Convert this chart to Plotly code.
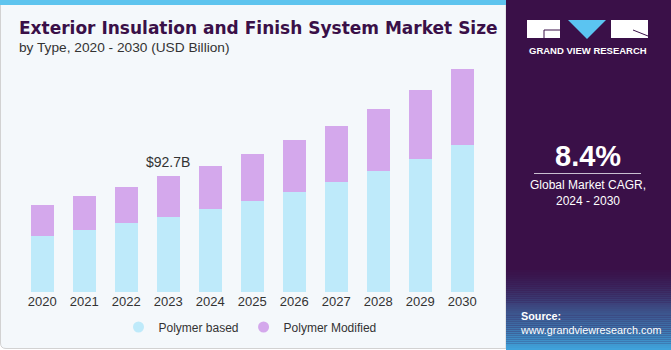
import plotly.graph_objects as go

years = ["2020", "2021", "2022", "2023", "2024", "2025", "2026", "2027", "2028", "2029", "2030"]
polymer_based = [45.1, 49.7, 55.0, 60.3, 66.3, 72.7, 79.9, 87.9, 96.9, 106.8, 118.0]
polymer_modified = [24.6, 27.0, 29.1, 32.4, 34.9, 37.9, 41.6, 45.1, 49.5, 54.8, 60.4]
annot_year = "2023"
annot_text = "$92.7B"
cagr_text = "8.4%"

W, H = 671, 350
BLUE = "#BEEAFA"
PURPLE = "#D4A8EC"
DARK = "#3A1048"
FONT = "Liberation Sans, Arial, sans-serif"

def px(x):
    return x / W

def py(y):
    return 1 - y / H

fig = go.Figure()
fig.add_trace(go.Bar(x=years, y=polymer_based, name="Polymer based",
                     marker=dict(color=BLUE, line=dict(width=0)), showlegend=False))
fig.add_trace(go.Bar(x=years, y=polymer_modified, name="Polymer Modified",
                     marker=dict(color=PURPLE, line=dict(width=0)), showlegend=False))
# legend entries with round symbols
fig.add_trace(go.Scatter(x=[None], y=[None], mode="markers", name="Polymer based",
                         marker=dict(color=BLUE, size=11, symbol="circle")))
fig.add_trace(go.Scatter(x=[None], y=[None], mode="markers", name="Polymer Modified",
                         marker=dict(color=PURPLE, size=11, symbol="circle")))

shapes = []
# left panel background with border
shapes.append(dict(type="path", xref="paper", yref="paper",
                   path=f"M {px(0.5)},{py(0)} L {px(506)},{py(0)} L {px(506)},{py(348.5)} L {px(6)},{py(348.5)} Q {px(0.5)},{py(348.5)} {px(0.5)},{py(343)} Z",
                   fillcolor="#F4F8FB", line=dict(color="#D2D2D2", width=1), layer="below"))
# top blue strip
shapes.append(dict(type="rect", xref="paper", yref="paper", x0=0, x1=px(506), y0=py(5), y1=1,
                   fillcolor="#5EC4EE", line=dict(width=0), layer="below"))
# right dark panel
shapes.append(dict(type="rect", xref="paper", yref="paper", x0=px(506), x1=1, y0=0, y1=1,
                   fillcolor=DARK, line=dict(width=0), layer="below"))
# gradient at bottom of right panel
c0 = (58, 16, 72)
c1 = (64, 165, 222)
n = 40
y_start, y_end = 268, 350
for i in range(n):
    t = (i + 0.5) / n
    t2 = t ** 1.3
    col = tuple(int(c0[k] + (c1[k] - c0[k]) * t2) for k in range(3))
    ya = y_start + (y_end - y_start) * i / n
    yb = y_start + (y_end - y_start) * (i + 1) / n
    shapes.append(dict(type="rect", xref="paper", yref="paper", x0=px(506), x1=1,
                       y0=py(yb), y1=py(ya), fillcolor="rgb(%d,%d,%d)" % col,
                       line=dict(width=0), layer="below"))
# logo
shapes.append(dict(type="rect", xref="paper", yref="paper", x0=px(527), x1=px(560), y0=py(38), y1=py(20),
                   fillcolor="white", line=dict(width=0)))
shapes.append(dict(type="path", xref="paper", yref="paper",
                   path=f"M {px(544)},{py(38)} L {px(544)},{py(30)} L {px(560)},{py(30)}",
                   line=dict(color=DARK, width=1)))
shapes.append(dict(type="path", xref="paper", yref="paper",
                   path=f"M {px(568)},{py(20)} L {px(606)},{py(20)} L {px(587)},{py(39)} Z",
                   fillcolor="#5BC4F1", line=dict(width=0)))
shapes.append(dict(type="rect", xref="paper", yref="paper", x0=px(611), x1=px(648), y0=py(38), y1=py(20),
                   fillcolor="white", line=dict(width=0)))
shapes.append(dict(type="path", xref="paper", yref="paper",
                   path=f"M {px(633)},{py(30)} L {px(648)},{py(36)}",
                   line=dict(color=DARK, width=1)))
# separator line under CAGR
shapes.append(dict(type="line", xref="paper", yref="paper", x0=px(534), x1=px(641), y0=py(173.5), y1=py(173.5),
                   line=dict(color="#C9BFD0", width=1)))

ai = years.index(annot_year)
annotations = []
annotations.append(dict(text="<b>Exterior Insulation and Finish System Market Size</b>", xref="paper", yref="paper",
                        x=px(17), y=py(28), xanchor="left", yanchor="middle", showarrow=False,
                        font=dict(family="DejaVu Sans, sans-serif", size=17, color=DARK)))
annotations.append(dict(text="by Type, 2020 - 2030 (USD Billion)", xref="paper", yref="paper",
                        x=px(17), y=py(48), xanchor="left", yanchor="middle", showarrow=False,
                        font=dict(family=FONT, size=13.7, color="#333333")))
annotations.append(dict(text=annot_text, x=ai, y=polymer_based[ai] + polymer_modified[ai],
                        xref="x", yref="y", xanchor="center", yanchor="bottom", yshift=4, showarrow=False,
                        font=dict(family=FONT, size=14, color="#333333")))
annotations.append(dict(text="<b>GRAND VIEW RESEARCH</b>", xref="paper", yref="paper",
                        x=px(588), y=py(51), xanchor="center", yanchor="middle", showarrow=False,
                        font=dict(family=FONT, size=9.5, color="white")))
annotations.append(dict(text="<b>" + cagr_text + "</b>", xref="paper", yref="paper",
                        x=px(588), y=py(156), xanchor="center", yanchor="middle", showarrow=False,
                        font=dict(family=FONT, size=29, color="white")))
annotations.append(dict(text="Global Market CAGR,<br>2024 - 2030", xref="paper", yref="paper",
                        x=px(588), y=py(193), xanchor="center", yanchor="middle", showarrow=False,
                        font=dict(family=FONT, size=12, color="white")))
annotations.append(dict(text="<b>Source:</b><br>www.grandviewresearch.com", xref="paper", yref="paper",
                        x=px(518), y=py(323), xanchor="left", yanchor="middle", showarrow=False, align="left",
                        font=dict(family=FONT, size=10.8, color="white")))

fig.update_layout(
    width=W, height=H,
    margin=dict(l=0, r=0, t=0, b=0),
    paper_bgcolor="white", plot_bgcolor="rgba(0,0,0,0)",
    barmode="stack", bargap=0.46,
    xaxis=dict(type="category", range=[-0.5, 10.5], domain=[px(21.3), px(483.3)],
               showgrid=False, zeroline=False, showline=False, ticks="",
               tickfont=dict(family=FONT, size=13, color="#333333"), fixedrange=True),
    yaxis=dict(range=[0, 185.9], domain=[1 - 292 / H, 1 - 60 / H], visible=False, fixedrange=True),
    legend=dict(orientation="h", x=px(250), xanchor="center", y=py(327), yanchor="middle",
                traceorder="normal",
                bgcolor="rgba(0,0,0,0)", font=dict(family=FONT, size=12, color="#333333"),
                itemclick=False, itemdoubleclick=False),
    shapes=shapes, annotations=annotations,
    showlegend=True,
)

fig.write_html("out.html", config={"displayModeBar": False})
